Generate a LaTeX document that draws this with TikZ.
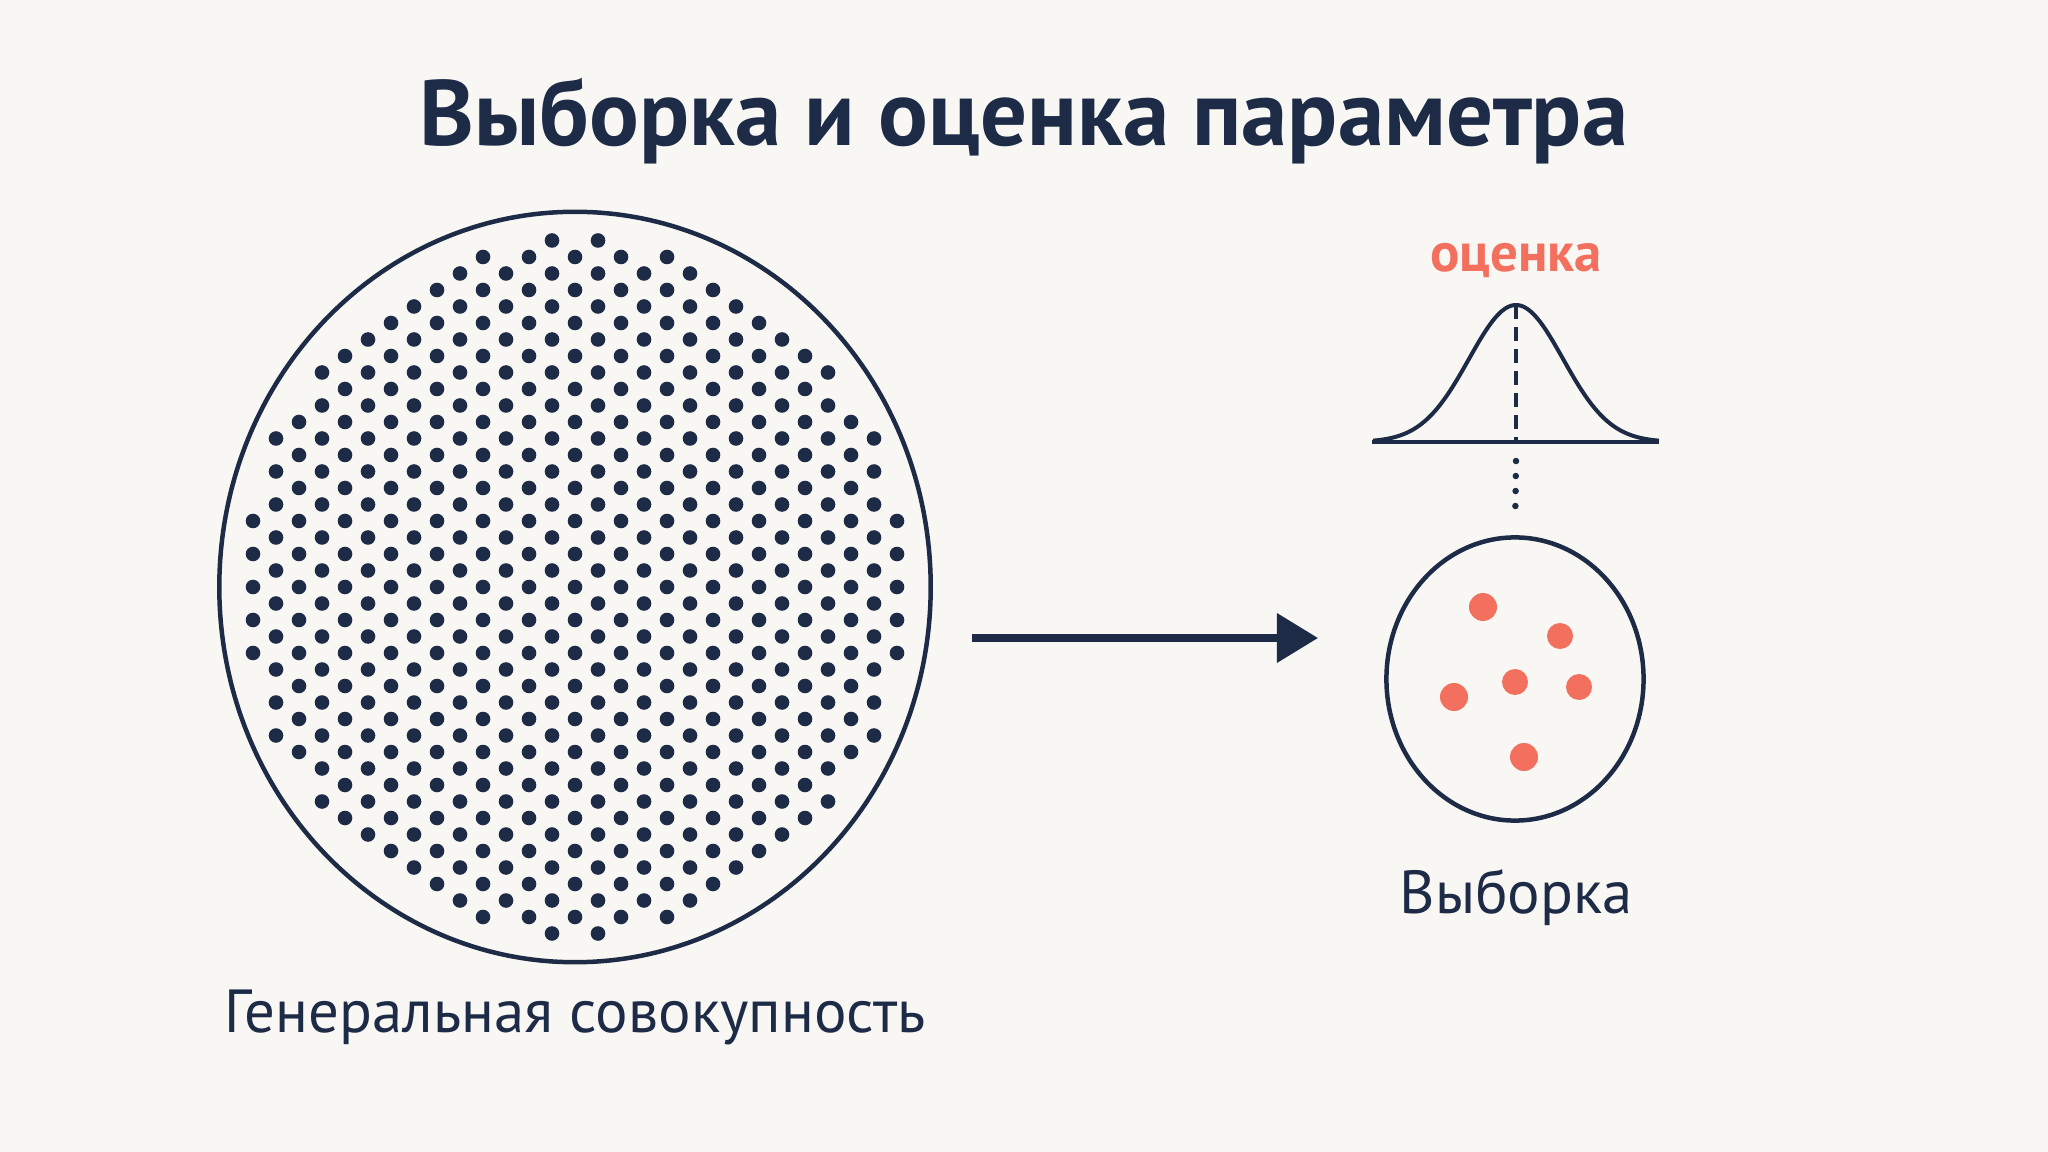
\documentclass[tikz,border=0pt]{standalone}
\usepackage{fontspec}
\setmainfont{PT Sans}
\usetikzlibrary{arrows.meta,shapes.geometric}
\definecolor{navy}{HTML}{1E2B47}
\definecolor{salmon}{HTML}{F3705F}
\definecolor{paper}{HTML}{F8F7F3}

\begin{document}
\begin{tikzpicture}[x=0.01cm, y=-0.01cm,
  outline/.style={ellipse, draw=navy, line width=0.045cm, inner sep=0pt},
  popdot/.style={fill=navy},
  sampledot/.style={fill=salmon},
  captext/.style={anchor=base, text=navy, font=\fontsize{17.3}{20}\selectfont}]
  \fill[paper] (0,0) rectangle (2048,1152);

  \node[anchor=base, text=navy, font=\fontsize{26.4}{30}\selectfont\bfseries] (title) at (1024,146) {Выборка и оценка параметра};

  % population
  \node[outline, minimum width=7.11cm, minimum height=7.5cm] (pop) at (575,587) {};
  \foreach \i in {-15,...,15}{
    \foreach \j in {-11,...,11}{
      \pgfmathsetmacro\px{\i*23}
      \pgfmathsetmacro\py{(\j+0.5*mod(abs(\i),2))*33}
      \pgfmathtruncatemacro\inside{((\px/331)^2+(\py/350)^2<1) ? 1 : 0}
      \ifnum\inside=1 \fill[popdot] ({575+\px},{587+\py}) circle[radius=7.3]; \fi
    }
  }
  \node[captext] (poplabel) at (575,1032) {Генеральная совокупность};

  \coordinate (arrowtail) at (972,638);
  \coordinate (arrowtip) at (1318,638);
  \draw[navy, line width=0.07cm, -{Triangle[length=0.41cm, width=0.48cm]}] (arrowtail) -- (arrowtip);

  % sample
  \node[outline, minimum width=2.57cm, minimum height=2.83cm] (sample) at (1515,679) {};
  \foreach \x/\y/\r in {1483/607/14, 1560/636/13, 1515/682/13, 1454/697/14, 1579/687/13, 1524/757/14}
    \fill[sampledot] (\x,\y) circle[radius=\r];
  \node[captext] (samplelabel) at (1516,913) {Выборка};

  % estimate
  \coordinate (axisleft) at (1372,442);
  \coordinate (axisright) at (1659,442);
  \coordinate (peak) at (1516,305);
  \coordinate (base) at (1516,442);
  \draw[navy, line width=0.04cm] (axisleft) -- (axisright);
  \draw[navy, line width=0.04cm, line join=round] plot[domain=-143:143, samples=90] ({1516+\x}, {442-137*exp(-0.5*(\x/47)^2)});
  \draw[navy, line width=0.035cm, dash pattern=on 0.14cm off 0.08cm] (peak) -- (base);
  \draw[navy, line width=0.065cm, line cap=round, dash pattern=on 0pt off 0.15cm, shorten >=0.15cm] ([yshift=-0.19cm]base) -- (sample.north);
  \node[anchor=base, text=salmon, font=\fontsize{15.6}{18}\selectfont\bfseries] (estlabel) at (1516,272) {оценка};
\end{tikzpicture}
\end{document}
